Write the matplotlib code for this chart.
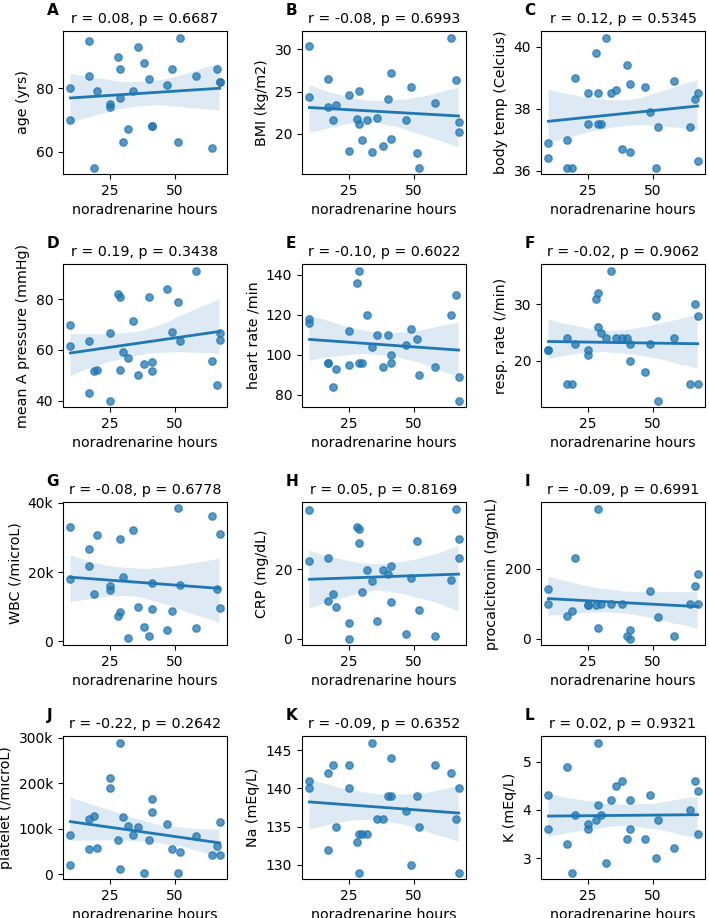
import numpy as np
import matplotlib
matplotlib.use("Agg")
import matplotlib.pyplot as plt
import seaborn as sns
from matplotlib.ticker import FuncFormatter

# noradrenarine hours (shared x for every panel)
hours = [10, 10, 17, 17, 19, 20, 25, 25, 28, 29, 29, 30, 32, 34,
         36, 38, 40, 41, 41, 47, 49, 51, 52, 58, 64, 66, 67, 67]

nan = np.nan
age = [80, 70, 95, 84, 55, 79, 75, 74, 90, 86, 77, 63, 67, 79,
       93, 88, 83, 68, 68, 81, 86, 63, 96, 84, 61, 86, 82, 82]
bmi = [30.4, 24.3, 26.5, 23.2, 21.6, 23.4, 24.6, 17.9, 21.8, 25.1, 21.1, 19.2, 21.6, 17.8,
       21.9, 18.6, 24.1, 27.2, 19.4, 21.6, 25.5, 17.7, 16.0, 23.7, 31.4, 26.4, 21.4, 20.2]
temp = [36.9, 36.4, 37.0, 36.1, 36.1, 39.0, 38.5, 37.5, 39.8, 38.5, 37.5, 37.5, 40.3, 38.5,
        38.6, 36.7, 39.4, 38.8, 36.6, 38.7, 37.9, 36.1, 37.4, 38.9, 37.4, 38.3, 38.5, 36.3]
map_ = [69.6, 61.7, 63.3, 43.0, 51.6, 52.0, 66.6, 40.0, 82.0, 80.7, 52.0, 59.3, 56.7, 71.3,
        50.0, 54.6, 80.7, 55.3, 51.6, 84.1, 67.0, 78.7, 63.3, 91.3, 55.7, 46.1, 66.7, 63.7]
hr = [118, 116, 96, 96, 84, 93, 112, 95, 136, 142, 96, 96, 120, 104,
      110, 94, 110, 100, 96, 105, 113, 108, 90, 94, 120, 130, 89, 77]
rr = [22, 22, 24, 16, 16, 23, 22, 21, 31, 32, 26, 25, 24, 36,
      24, 24, 24, 23, 20, 18, 23, 28, 13, 24, 16, 30, 16, 28]
wbc = [33000, 17900, 26800, 21700, 13700, 30700, 16100, 14700, 7300, 29700, 8500, 18500, 800, 32100,
       9900, 4200, 1500, 16800, 9300, 3400, 8800, 38400, 16200, 3700, 36300, 15000, 30900, 9600]
crp = [37.1, 22.4, 23.2, 10.9, 12.9, 9.2, 4.5, 0.0, 32.1, 31.5, 27.6, 13.3, 19.8, 16.7,
       5.1, 19.8, 18.7, 21.0, 10.4, 1.2, 17.4, 28.0, 8.2, 0.8, 16.8, 37.5, 28.8, 23.2]
pct = [141, 99, 65, nan, 78, 231, 97, 97, 97, 372, 31, 99, nan, 99,
       nan, 99, 7, 23, 0, nan, 137, nan, 61, 7, 99, 150, 185, 99]
plat = [87000, 20000, 121000, 55000, 128000, 58000, 211000, 191000, 76000, 290000, 12500, 126000, 107000, 87000,
        105000, 4000, 76000, 165000, 137000, 110000, 55000, 4000, 50000, 85000, 42000, 62000, 115000, 42000]
na = [141, 140, 142, 132, 143, 135, 143, 140, 133, 134, 129, 134, 134, 146,
      136, 136, 139, 144, 139, 137, 130, 139, 135, 143, 142, 136, 140, 129]
k = [4.3, 3.6, 4.9, 3.3, 2.7, 3.9, 3.7, 3.6, 3.8, 5.4, 4.1, 3.9, 2.9, 4.2,
     4.5, 4.6, 3.4, 4.2, 3.6, 3.4, 4.3, 3.0, 3.8, 3.2, 4.0, 4.6, 4.4, 3.5]

series = [age, bmi, temp, map_, hr, rr, wbc, crp, pct, plat, na, k]
letters = list("ABCDEFGHIJKL")
ylabels = ["age (yrs)", "BMI (kg/m2)", "body temp (Celcius)",
           "mean A pressure (mmHg)", "heart rate /min", "resp. rate (/min)",
           "WBC (/microL)", "CRP (mg/dL)", "procalcitonin (ng/mL)",
           "platelet (/microL)", "Na (mEq/L)", "K (mEq/L)"]
titles = ["r = 0.08, p = 0.6687", "r = -0.08, p = 0.6993", "r = 0.12, p = 0.5345",
          "r = 0.19, p = 0.3438", "r = -0.10, p = 0.6022", "r = -0.02, p = 0.9062",
          "r = -0.08, p = 0.6778", "r = 0.05, p = 0.8169", "r = -0.09, p = 0.6991",
          "r = -0.22, p = 0.2642", "r = -0.09, p = 0.6352", "r = 0.02, p = 0.9321"]
yticks = [[60, 80], [20, 25, 30], [36, 38, 40],
          [40, 60, 80], [80, 100, 120, 140], [20, 30],
          [0, 20000, 40000], [0, 20], [0, 200],
          [0, 100000, 200000, 300000], [130, 135, 140, 145], [3, 4, 5]]
xticks = [25, 50]

W, H = 709, 918
fig = plt.figure(figsize=(W / 100, H / 100), dpi=100)

lefts = [63, 302, 541]
tops = [31, 264, 502, 736]
aw, ah = 164, 143

kfmt = FuncFormatter(lambda v, p: "0" if v == 0 else f"{int(v / 1000)}k")

for i, vals in enumerate(series):
    r, c = divmod(i, 3)
    ax = fig.add_axes([lefts[c] / W, 1 - (tops[r] + ah) / H, aw / W, ah / H])
    sns.regplot(x=np.array(hours, float), y=np.array(vals, float), ax=ax, seed=0,
                scatter_kws={"s": 28, "alpha": 0.75}, line_kws={"lw": 2})
    ax.set_title(titles[i], fontsize=10.3)
    ax.set_xlabel("noradrenarine hours", fontsize=10.3)
    ax.set_ylabel(ylabels[i], fontsize=10.3)
    ax.set_xticks(xticks)
    ax.set_yticks(yticks[i])
    if i in (6, 9):
        ax.yaxis.set_major_formatter(kfmt)
    ax.tick_params(labelsize=10)
    ax.text(-0.1, 1.11, letters[i], transform=ax.transAxes, fontsize=11,
            fontweight="bold", ha="left", va="baseline")

fig.savefig("out.png", dpi=100)
